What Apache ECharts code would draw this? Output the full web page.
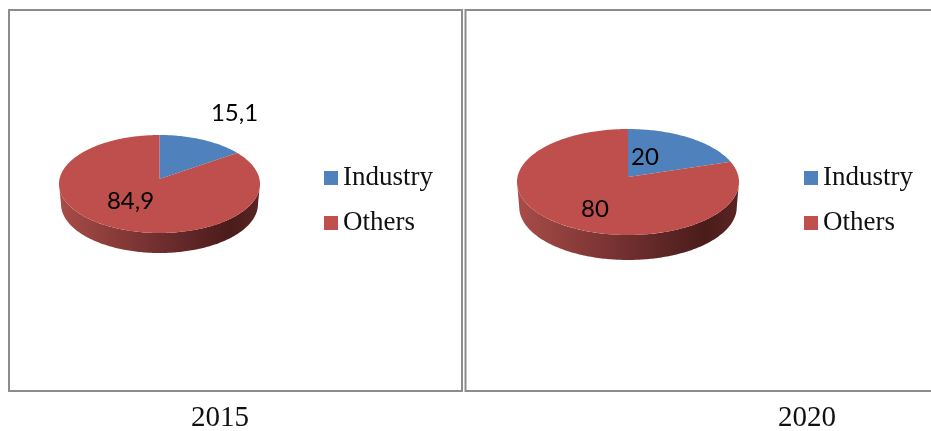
<!DOCTYPE html>
<html><head><meta charset="utf-8">
<script src="https://cdn.jsdelivr.net/npm/echarts@6/dist/echarts.min.js"></script>
<style>html,body{margin:0;padding:0;background:#fff}#c{width:931px;height:431px}</style>
</head><body><div id="c"></div>
<script>
const categories = ['Industry', 'Others'];
const years = ['2015', '2020'];
const values2015 = [15.1, 84.9];
const values2020 = [20, 80];
const valuesByYear = [values2015, values2020];

const colors = ['#4F81BD', '#C0504D'];
const faceColors = ['#4F81BD', '#BE4F4C'];
const wallStops = [
  {offset: 0, color: '#A84C49'}, {offset: 0.3, color: '#863A38'},
  {offset: 0.6, color: '#65292A'}, {offset: 0.85, color: '#4A1C1A'}, {offset: 1, color: '#5A2523'}
];
const perspective = 0.08, wallTaper = 0.98;
const pieLayouts = [
  {cx: 159.5, cy: 184, rx: 100.5, ry: 49, apexY: 179, depth: 20,
   labels: [[234.5, 113], [130.5, 201]]},
  {cx: 628, cy: 182, rx: 111, ry: 53, apexY: 177, depth: 25,
   labels: [[645, 157], [595, 209]]}
];

function slice(yearIdx, catIdx) {
  const vals = valuesByYear[yearIdx], p = pieLayouts[yearIdx];
  const total = vals.reduce((a, b) => a + b, 0);
  const before = vals.slice(0, catIdx).reduce((a, b) => a + b, 0);
  return {
    type: 'custom', name: categories[catIdx], coordinateSystem: 'none',
    itemStyle: {color: colors[catIdx]},
    z: catIdx + 2,
    data: [{name: categories[catIdx], value: vals[catIdx]}],
    renderItem: function (params, api) {
      const value = api.value(0);
      const warp = a => a - perspective * Math.sin(a);
      const a0 = warp(before / total * 2 * Math.PI);
      const a1 = warp((before + value) / total * 2 * Math.PI);
      const rim = a => [p.cx + p.rx * Math.sin(a), p.cy - p.ry * Math.cos(a)];
      const step = Math.PI / 180, children = [];
      // Side wall: the part of this slice's rim on the near half
      const w0 = Math.max(a0, Math.PI / 2), w1 = Math.min(a1, Math.PI * 1.5);
      if (w1 > w0) {
        const top = [];
        for (let a = w0; a < w1; a += step) top.push(rim(a));
        top.push(rim(w1));
        const bottom = top.slice().reverse().map(q => [p.cx + (q[0] - p.cx) * wallTaper, q[1] + p.depth]);
        children.push({
          type: 'polygon', shape: {points: top.concat(bottom)},
          style: {fill: {type: 'linear', x: p.cx - p.rx, y: 0, x2: p.cx + p.rx, y2: 0,
                         global: true, colorStops: wallStops}}
        });
      }
      // Top face
      const face = [[p.cx, p.apexY]];
      for (let a = a0; a < a1; a += step) face.push(rim(a));
      face.push(rim(a1));
      children.push({type: 'polygon', shape: {points: face}, style: {fill: faceColors[catIdx]}});
      // Data label
      const lab = p.labels[catIdx];
      children.push({
        type: 'text', x: lab[0], y: lab[1], z2: 20,
        style: {text: String(value).replace('.', ','), fill: '#000',
                font: '24px Lato', align: 'center', verticalAlign: 'middle'}
      });
      return {type: 'group', children: children};
    }
  };
}

const legendFont = {color: '#111', fontFamily: 'Liberation Serif', fontSize: 27, lineHeight: 30};
const mkLegend = left => ({
  left: left, top: 163, orient: 'vertical', itemGap: 15, itemWidth: 14, itemHeight: 14,
  icon: 'rect', selectedMode: false, data: categories, textStyle: legendFont, padding: 0
});
const frame = (x, y, w, h) => ({
  type: 'rect', shape: {x: x, y: y, width: w, height: h},
  style: {fill: 'none', stroke: '#8C8C8C', lineWidth: 2}, silent: true
});
const mkTitle = (i, left) => ({
  text: years[i], left: left, top: 404, textAlign: 'center', padding: 0,
  textStyle: {color: '#111', fontFamily: 'Liberation Serif', fontSize: 29, fontWeight: 'normal'}
});

const chart = echarts.init(document.getElementById('c'), null, {renderer: 'canvas'});
chart.setOption({
  animation: false,
  backgroundColor: '#fff',
  title: [mkTitle(0, 220), mkTitle(1, 807)],
  legend: [mkLegend(324), mkLegend(804)],
  graphic: [frame(9, 10, 453, 381), frame(465.5, 10, 480, 381)],
  series: [slice(0, 0), slice(0, 1), slice(1, 0), slice(1, 1)]
});
</script></body></html>
